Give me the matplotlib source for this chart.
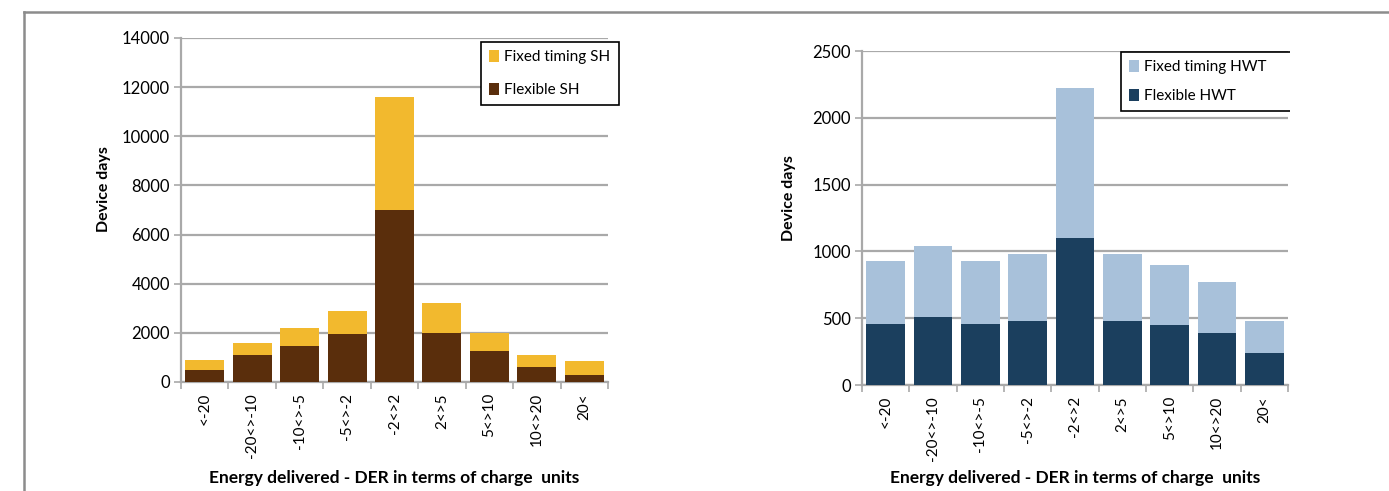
import matplotlib.pyplot as plt
import numpy as np
from matplotlib.lines import Line2D
from matplotlib.transforms import Bbox, TransformedBbox

# =====================================================
# DATA
# =====================================================

categories = ["<-20", "-20<>-10", "-10<>-5", "-5<>-2", "-2<>2", "2<>5", "5<>10", "10<>20", "20<"]

# Space heating (SH)
sh_flexible = [500, 1100, 1450, 1950, 7000, 2000, 1250, 600, 300]
sh_fixed = [400, 500, 750, 950, 4600, 1200, 750, 500, 550]

# Hot water tanks (HWT)
hwt_flexible = [460, 510, 460, 480, 1100, 480, 450, 390, 240]
hwt_fixed = [470, 530, 470, 500, 1120, 500, 450, 380, 240]

sh_ticks = [0, 2000, 4000, 6000, 8000, 10000, 12000, 14000]
hwt_ticks = [0, 500, 1000, 1500, 2000, 2500]

# =====================================================
# STYLE
# =====================================================

plt.rcParams["font.family"] = ["Lato", "DejaVu Sans"]
plt.rcParams["font.size"] = 10

W, H = 1389, 491
fig = plt.figure(figsize=(W / 100, H / 100), dpi=100)

GRID = "#a9a9a9"
x = np.arange(len(categories))


def draw_panel(ax, flex, fixed, ticks, c_flex, c_fixed, lab_flex, lab_fixed, label_y):
    ax.bar(x, flex, width=0.82, color=c_flex, label=lab_flex, zorder=3)
    ax.bar(x, fixed, width=0.82, bottom=flex, color=c_fixed, label=lab_fixed, zorder=3)

    ax.set_xlim(-0.5, len(categories) - 0.5)
    ax.set_ylim(ticks[0], ticks[-1])
    ax.set_yticks(ticks)
    ax.set_yticklabels([str(t) for t in ticks], fontsize=12)

    ax.set_xticks(x)
    ax.set_xticklabels(categories, rotation=90, fontsize=11, va="top", ha="center")
    ax.tick_params(axis="x", which="major", length=0, pad=8)
    ax.set_xticks(np.arange(len(categories) + 1) - 0.5, minor=True)
    ax.tick_params(axis="x", which="minor", length=5, width=1.2, color=GRID, direction="out")
    ax.tick_params(axis="y", length=5, width=1.2, color=GRID, pad=3)

    ax.grid(axis="y", color=GRID, linewidth=1.6, zorder=0)
    for s in ["top", "right"]:
        ax.spines[s].set_visible(False)
    for s in ["left", "bottom"]:
        ax.spines[s].set_color(GRID)
        ax.spines[s].set_linewidth(1.6)

    ax.set_ylabel("Device days", fontsize=11.5, fontweight="bold")
    ax.yaxis.set_label_coords(label_y[0], label_y[1])
    ax.set_xlabel("Energy delivered - DER in terms of charge  units", fontsize=12.5, fontweight="bold")


def add_legend(ax, left, top, right, bottom, spacing):
    h, l = ax.get_legend_handles_labels()
    leg = ax.legend(h[::-1], l[::-1], loc="upper left", mode="expand",
                    bbox_to_anchor=(left / W, 1 - bottom / H, (right - left) / W, (bottom - top) / H),
                    bbox_transform=fig.transFigure, fancybox=False, edgecolor="black", framealpha=1,
                    fontsize=11, labelspacing=spacing, handlelength=0.7, handleheight=0.9,
                    handletextpad=0.3, borderpad=0.5, borderaxespad=0)
    leg.get_frame().set_linewidth(1.2)
    return leg


# =====================================================
# LEFT PANEL - SPACE HEATING
# =====================================================

ax1 = fig.add_axes([181 / W, 1 - 382 / H, 427 / W, 344 / H])
draw_panel(ax1, sh_flexible, sh_fixed, sh_ticks, "#5a2e0c", "#f2b92e",
           "Flexible SH", "Fixed timing SH", (-0.165, 0.56))
ax1.xaxis.set_label_coords(0.5, -0.256)
add_legend(ax1, 481, 42, 619, 105, 1.2)

# =====================================================
# RIGHT PANEL - HOT WATER TANKS
# =====================================================

ax2 = fig.add_axes([862 / W, 1 - 385 / H, 426 / W, 334 / H])
draw_panel(ax2, hwt_flexible, hwt_fixed, hwt_ticks, "#1b3f5e", "#a8c1da",
           "Flexible HWT", "Fixed timing HWT", (-0.155, 0.56))
ax2.xaxis.set_label_coords(0.5, -0.254)
leg2 = add_legend(ax2, 1121, 52, 1310, 110, 0.95)
# box runs off on the right in the original, so cut its right edge
leg2.get_frame().set_clip_box(TransformedBbox(Bbox([[0, 0], [1290 / W, 1]]), fig.transFigure))

# =====================================================
# OUTER FRAME
# =====================================================

fig.add_artist(Line2D([24 / W, 1], [1 - 12 / H, 1 - 12 / H], color="#8c8c8c", linewidth=1.8))
fig.add_artist(Line2D([24 / W, 24 / W], [0, 1 - 12 / H], color="#8c8c8c", linewidth=1.8))

plt.savefig("out.png", dpi=100)
plt.close()
